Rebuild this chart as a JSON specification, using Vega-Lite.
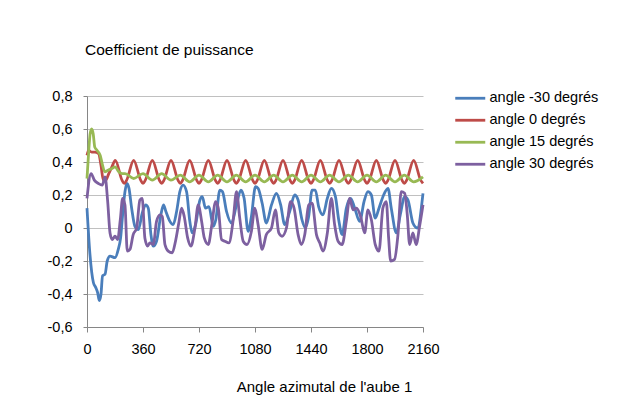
{
"$schema":"https://vega.github.io/schema/vega-lite/v6.json",
"width":336,"height":231,
"autosize":"none",
"padding":{"left":87,"top":96,"right":202,"bottom":87},
"background":"white",
"config":{"view":{"stroke":null},"font":"Liberation Sans","title":{"fontSize":15.5,"fontWeight":"normal","font":"Liberation Sans","color":"#000000"}},
"title":{"text":"Coefficient de puissance","anchor":"start","frame":"group","baseline":"alphabetic","offset":18,"dx":-2,"fontSize":15.5,"fontWeight":"normal","font":"Liberation Sans","color":"#000000"},
"data":{"values":[
{"s":"angle -30 degrés","a":0,"v":0.12},{"s":"angle -30 degrés","a":19,"v":-0.16},{"s":"angle -30 degrés","a":41,"v":-0.33},{"s":"angle -30 degrés","a":56,"v":-0.36},{"s":"angle -30 degrés","a":68,"v":-0.39},{"s":"angle -30 degrés","a":79,"v":-0.44},{"s":"angle -30 degrés","a":90,"v":-0.40},{"s":"angle -30 degrés","a":100,"v":-0.29},{"s":"angle -30 degrés","a":116,"v":-0.28},{"s":"angle -30 degrés","a":130,"v":-0.20},{"s":"angle -30 degrés","a":148,"v":-0.17},{"s":"angle -30 degrés","a":180,"v":-0.18},{"s":"angle -30 degrés","a":201,"v":-0.13},{"s":"angle -30 degrés","a":216,"v":-0.06},{"s":"angle -30 degrés","a":229,"v":0.08},{"s":"angle -30 degrés","a":244,"v":0.22},{"s":"angle -30 degrés","a":257,"v":0.27},{"s":"angle -30 degrés","a":270,"v":0.24},{"s":"angle -30 degrés","a":287,"v":0.12},{"s":"angle -30 degrés","a":308,"v":0.01},{"s":"angle -30 degrés","a":330,"v":-0.01},{"s":"angle -30 degrés","a":355,"v":0.09},{"s":"angle -30 degrés","a":377,"v":0.14},{"s":"angle -30 degrés","a":394,"v":0.12},{"s":"angle -30 degrés","a":411,"v":-0.04},{"s":"angle -30 degrés","a":426,"v":-0.11},{"s":"angle -30 degrés","a":447,"v":-0.08},{"s":"angle -30 degrés","a":475,"v":0.08},{"s":"angle -30 degrés","a":492,"v":0.14},{"s":"angle -30 degrés","a":507,"v":0.10},{"s":"angle -30 degrés","a":533,"v":0.04},{"s":"angle -30 degrés","a":554,"v":0.02},{"s":"angle -30 degrés","a":576,"v":0.10},{"s":"angle -30 degrés","a":597,"v":0.22},{"s":"angle -30 degrés","a":618,"v":0.26},{"s":"angle -30 degrés","a":640,"v":0.22},{"s":"angle -30 degrés","a":661,"v":0.04},{"s":"angle -30 degrés","a":676,"v":-0.03},{"s":"angle -30 degrés","a":698,"v":0.02},{"s":"angle -30 degrés","a":726,"v":0.17},{"s":"angle -30 degrés","a":741,"v":0.19},{"s":"angle -30 degrés","a":762,"v":0.12},{"s":"angle -30 degrés","a":784,"v":0.13},{"s":"angle -30 degrés","a":812,"v":0.01},{"s":"angle -30 degrés","a":828,"v":0.05},{"s":"angle -30 degrés","a":854,"v":0.23},{"s":"angle -30 degrés","a":871,"v":0.22},{"s":"angle -30 degrés","a":897,"v":0.10},{"s":"angle -30 degrés","a":929,"v":0.03},{"s":"angle -30 degrés","a":961,"v":0.14},{"s":"angle -30 degrés","a":989,"v":0.23},{"s":"angle -30 degrés","a":1010,"v":0.18},{"s":"angle -30 degrés","a":1036,"v":-0.02},{"s":"angle -30 degrés","a":1057,"v":0.07},{"s":"angle -30 degrés","a":1083,"v":0.25},{"s":"angle -30 degrés","a":1100,"v":0.24},{"s":"angle -30 degrés","a":1126,"v":0.15},{"s":"angle -30 degrés","a":1153,"v":0.03},{"s":"angle -30 degrés","a":1186,"v":0.14},{"s":"angle -30 degrés","a":1218,"v":0.21},{"s":"angle -30 degrés","a":1245,"v":0.14},{"s":"angle -30 degrés","a":1271,"v":0.02},{"s":"angle -30 degrés","a":1303,"v":0.10},{"s":"angle -30 degrés","a":1335,"v":0.20},{"s":"angle -30 degrés","a":1357,"v":0.17},{"s":"angle -30 degrés","a":1382,"v":0.05},{"s":"angle -30 degrés","a":1404,"v":0.0},{"s":"angle -30 degrés","a":1425,"v":0.07},{"s":"angle -30 degrés","a":1447,"v":0.23},{"s":"angle -30 degrés","a":1468,"v":0.23},{"s":"angle -30 degrés","a":1489,"v":0.13},{"s":"angle -30 degrés","a":1517,"v":0.08},{"s":"angle -30 degrés","a":1545,"v":0.18},{"s":"angle -30 degrés","a":1571,"v":0.24},{"s":"angle -30 degrés","a":1597,"v":0.19},{"s":"angle -30 degrés","a":1618,"v":0.05},{"s":"angle -30 degrés","a":1640,"v":-0.04},{"s":"angle -30 degrés","a":1667,"v":0.12},{"s":"angle -30 degrés","a":1695,"v":0.18},{"s":"angle -30 degrés","a":1721,"v":0.12},{"s":"angle -30 degrés","a":1753,"v":0.04},{"s":"angle -30 degrés","a":1781,"v":0.16},{"s":"angle -30 degrés","a":1806,"v":0.22},{"s":"angle -30 degrés","a":1828,"v":0.20},{"s":"angle -30 degrés","a":1853,"v":0.06},{"s":"angle -30 degrés","a":1877,"v":0.12},{"s":"angle -30 degrés","a":1907,"v":0.20},{"s":"angle -30 degrés","a":1935,"v":0.24},{"s":"angle -30 degrés","a":1956,"v":0.12},{"s":"angle -30 degrés","a":1989,"v":-0.03},{"s":"angle -30 degrés","a":2014,"v":0.08},{"s":"angle -30 degrés","a":2042,"v":0.19},{"s":"angle -30 degrés","a":2063,"v":0.17},{"s":"angle -30 degrés","a":2095,"v":0.03},{"s":"angle -30 degrés","a":2123,"v":0.0},{"s":"angle -30 degrés","a":2160,"v":0.21},
{"s":"angle 0 degrés","a":0,"v":0.44},{"s":"angle 0 degrés","a":10,"v":0.47},{"s":"angle 0 degrés","a":30,"v":0.46},{"s":"angle 0 degrés","a":50,"v":0.46},{"s":"angle 0 degrés","a":75,"v":0.45},{"s":"angle 0 degrés","a":90,"v":0.38},{"s":"angle 0 degrés","a":105,"v":0.29},{"s":"angle 0 degrés","a":120,"v":0.29},{"s":"angle 0 degrés","a":140,"v":0.33},{"s":"angle 0 degrés","a":160,"v":0.37},{"s":"angle 0 degrés","a":182,"v":0.41},{"s":"angle 0 degrés","a":225,"v":0.29},{"s":"angle 0 degrés","a":240,"v":0.27},{"s":"angle 0 degrés","a":255,"v":0.29},
{"s":"angle 0 degrés","a":300,"v":0.41},{"s":"angle 0 degrés","a":345,"v":0.29},{"s":"angle 0 degrés","a":360,"v":0.27},{"s":"angle 0 degrés","a":375,"v":0.29},
{"s":"angle 0 degrés","a":420,"v":0.41},{"s":"angle 0 degrés","a":465,"v":0.29},{"s":"angle 0 degrés","a":480,"v":0.27},{"s":"angle 0 degrés","a":495,"v":0.29},
{"s":"angle 0 degrés","a":540,"v":0.41},{"s":"angle 0 degrés","a":585,"v":0.29},{"s":"angle 0 degrés","a":600,"v":0.27},{"s":"angle 0 degrés","a":615,"v":0.29},
{"s":"angle 0 degrés","a":660,"v":0.41},{"s":"angle 0 degrés","a":705,"v":0.29},{"s":"angle 0 degrés","a":720,"v":0.27},{"s":"angle 0 degrés","a":735,"v":0.29},
{"s":"angle 0 degrés","a":780,"v":0.41},{"s":"angle 0 degrés","a":825,"v":0.29},{"s":"angle 0 degrés","a":840,"v":0.27},{"s":"angle 0 degrés","a":855,"v":0.29},
{"s":"angle 0 degrés","a":900,"v":0.41},{"s":"angle 0 degrés","a":945,"v":0.29},{"s":"angle 0 degrés","a":960,"v":0.27},{"s":"angle 0 degrés","a":975,"v":0.29},
{"s":"angle 0 degrés","a":1020,"v":0.41},{"s":"angle 0 degrés","a":1065,"v":0.29},{"s":"angle 0 degrés","a":1080,"v":0.27},{"s":"angle 0 degrés","a":1095,"v":0.29},
{"s":"angle 0 degrés","a":1140,"v":0.41},{"s":"angle 0 degrés","a":1185,"v":0.29},{"s":"angle 0 degrés","a":1200,"v":0.27},{"s":"angle 0 degrés","a":1215,"v":0.29},
{"s":"angle 0 degrés","a":1260,"v":0.41},{"s":"angle 0 degrés","a":1305,"v":0.29},{"s":"angle 0 degrés","a":1320,"v":0.27},{"s":"angle 0 degrés","a":1335,"v":0.29},
{"s":"angle 0 degrés","a":1380,"v":0.41},{"s":"angle 0 degrés","a":1425,"v":0.29},{"s":"angle 0 degrés","a":1440,"v":0.27},{"s":"angle 0 degrés","a":1455,"v":0.29},
{"s":"angle 0 degrés","a":1500,"v":0.41},{"s":"angle 0 degrés","a":1545,"v":0.29},{"s":"angle 0 degrés","a":1560,"v":0.27},{"s":"angle 0 degrés","a":1575,"v":0.29},
{"s":"angle 0 degrés","a":1620,"v":0.41},{"s":"angle 0 degrés","a":1665,"v":0.29},{"s":"angle 0 degrés","a":1680,"v":0.27},{"s":"angle 0 degrés","a":1695,"v":0.29},
{"s":"angle 0 degrés","a":1740,"v":0.41},{"s":"angle 0 degrés","a":1785,"v":0.29},{"s":"angle 0 degrés","a":1800,"v":0.27},{"s":"angle 0 degrés","a":1815,"v":0.29},
{"s":"angle 0 degrés","a":1860,"v":0.41},{"s":"angle 0 degrés","a":1905,"v":0.29},{"s":"angle 0 degrés","a":1920,"v":0.27},{"s":"angle 0 degrés","a":1935,"v":0.29},
{"s":"angle 0 degrés","a":1980,"v":0.41},{"s":"angle 0 degrés","a":2025,"v":0.29},{"s":"angle 0 degrés","a":2040,"v":0.27},{"s":"angle 0 degrés","a":2055,"v":0.29},
{"s":"angle 0 degrés","a":2100,"v":0.41},{"s":"angle 0 degrés","a":2145,"v":0.29},{"s":"angle 0 degrés","a":2160,"v":0.27},
{"s":"angle 15 degrés","a":0,"v":0.30},{"s":"angle 15 degrés","a":10,"v":0.45},{"s":"angle 15 degrés","a":20,"v":0.57},{"s":"angle 15 degrés","a":30,"v":0.60},{"s":"angle 15 degrés","a":40,"v":0.57},{"s":"angle 15 degrés","a":50,"v":0.49},{"s":"angle 15 degrés","a":65,"v":0.47},{"s":"angle 15 degrés","a":85,"v":0.44},{"s":"angle 15 degrés","a":100,"v":0.38},{"s":"angle 15 degrés","a":115,"v":0.34},{"s":"angle 15 degrés","a":135,"v":0.35},{"s":"angle 15 degrés","a":160,"v":0.36},{"s":"angle 15 degrés","a":180,"v":0.37},{"s":"angle 15 degrés","a":205,"v":0.34},{"s":"angle 15 degrés","a":225,"v":0.33},{"s":"angle 15 degrés","a":245,"v":0.33},
{"s":"angle 15 degrés","a":300,"v":0.30},{"s":"angle 15 degrés","a":360,"v":0.33},{"s":"angle 15 degrés","a":420,"v":0.29},{"s":"angle 15 degrés","a":480,"v":0.33},{"s":"angle 15 degrés","a":540,"v":0.29},{"s":"angle 15 degrés","a":600,"v":0.32},{"s":"angle 15 degrés","a":660,"v":0.28},{"s":"angle 15 degrés","a":720,"v":0.32},{"s":"angle 15 degrés","a":780,"v":0.28},{"s":"angle 15 degrés","a":840,"v":0.32},{"s":"angle 15 degrés","a":900,"v":0.28},{"s":"angle 15 degrés","a":960,"v":0.32},{"s":"angle 15 degrés","a":1020,"v":0.28},{"s":"angle 15 degrés","a":1080,"v":0.32},{"s":"angle 15 degrés","a":1140,"v":0.28},{"s":"angle 15 degrés","a":1200,"v":0.32},{"s":"angle 15 degrés","a":1260,"v":0.28},{"s":"angle 15 degrés","a":1320,"v":0.32},{"s":"angle 15 degrés","a":1380,"v":0.28},{"s":"angle 15 degrés","a":1440,"v":0.32},{"s":"angle 15 degrés","a":1500,"v":0.28},{"s":"angle 15 degrés","a":1560,"v":0.32},{"s":"angle 15 degrés","a":1620,"v":0.28},{"s":"angle 15 degrés","a":1680,"v":0.32},{"s":"angle 15 degrés","a":1740,"v":0.28},{"s":"angle 15 degrés","a":1800,"v":0.32},{"s":"angle 15 degrés","a":1860,"v":0.28},{"s":"angle 15 degrés","a":1920,"v":0.32},{"s":"angle 15 degrés","a":1980,"v":0.28},{"s":"angle 15 degrés","a":2040,"v":0.32},{"s":"angle 15 degrés","a":2100,"v":0.28},{"s":"angle 15 degrés","a":2160,"v":0.31},
{"s":"angle 30 degrés","a":0,"v":0.18},{"s":"angle 30 degrés","a":26,"v":0.33},{"s":"angle 30 degrés","a":47,"v":0.29},{"s":"angle 30 degrés","a":73,"v":0.27},{"s":"angle 30 degrés","a":98,"v":0.26},{"s":"angle 30 degrés","a":116,"v":0.31},{"s":"angle 30 degrés","a":133,"v":0.16},{"s":"angle 30 degrés","a":148,"v":-0.03},{"s":"angle 30 degrés","a":163,"v":-0.07},{"s":"angle 30 degrés","a":180,"v":-0.05},{"s":"angle 30 degrés","a":197,"v":-0.07},{"s":"angle 30 degrés","a":214,"v":0.05},{"s":"angle 30 degrés","a":229,"v":0.18},{"s":"angle 30 degrés","a":244,"v":0.14},{"s":"angle 30 degrés","a":259,"v":-0.14},{"s":"angle 30 degrés","a":276,"v":-0.13},{"s":"angle 30 degrés","a":297,"v":-0.04},{"s":"angle 30 degrés","a":319,"v":0.0},{"s":"angle 30 degrés","a":340,"v":0.17},{"s":"angle 30 degrés","a":355,"v":0.18},{"s":"angle 30 degrés","a":372,"v":-0.06},{"s":"angle 30 degrés","a":390,"v":-0.11},{"s":"angle 30 degrés","a":404,"v":-0.09},{"s":"angle 30 degrés","a":426,"v":-0.10},{"s":"angle 30 degrés","a":447,"v":0.04},{"s":"angle 30 degrés","a":469,"v":0.08},{"s":"angle 30 degrés","a":484,"v":0.07},{"s":"angle 30 degrés","a":501,"v":-0.10},{"s":"angle 30 degrés","a":522,"v":-0.14},{"s":"angle 30 degrés","a":548,"v":-0.15},{"s":"angle 30 degrés","a":569,"v":-0.08},{"s":"angle 30 degrés","a":590,"v":0.03},{"s":"angle 30 degrés","a":608,"v":0.12},{"s":"angle 30 degrés","a":625,"v":0.07},{"s":"angle 30 degrés","a":647,"v":-0.06},{"s":"angle 30 degrés","a":668,"v":-0.11},{"s":"angle 30 degrés","a":694,"v":0.0},{"s":"angle 30 degrés","a":715,"v":0.14},{"s":"angle 30 degrés","a":737,"v":0.04},{"s":"angle 30 degrés","a":754,"v":-0.06},{"s":"angle 30 degrés","a":780,"v":-0.10},{"s":"angle 30 degrés","a":801,"v":0.01},{"s":"angle 30 degrés","a":827,"v":0.16},{"s":"angle 30 degrés","a":844,"v":0.12},{"s":"angle 30 degrés","a":865,"v":-0.07},{"s":"angle 30 degrés","a":886,"v":-0.08},{"s":"angle 30 degrés","a":912,"v":-0.09},{"s":"angle 30 degrés","a":940,"v":0.05},{"s":"angle 30 degrés","a":961,"v":0.22},{"s":"angle 30 degrés","a":982,"v":0.06},{"s":"angle 30 degrés","a":1004,"v":-0.08},{"s":"angle 30 degrés","a":1029,"v":-0.10},{"s":"angle 30 degrés","a":1057,"v":-0.02},{"s":"angle 30 degrés","a":1079,"v":0.12},{"s":"angle 30 degrés","a":1100,"v":0.02},{"s":"angle 30 degrés","a":1126,"v":-0.13},{"s":"angle 30 degrés","a":1153,"v":-0.04},{"s":"angle 30 degrés","a":1186,"v":0.0},{"s":"angle 30 degrés","a":1211,"v":0.11},{"s":"angle 30 degrés","a":1233,"v":-0.03},{"s":"angle 30 degrés","a":1254,"v":-0.05},{"s":"angle 30 degrés","a":1282,"v":0.0},{"s":"angle 30 degrés","a":1309,"v":0.16},{"s":"angle 30 degrés","a":1331,"v":0.12},{"s":"angle 30 degrés","a":1357,"v":-0.04},{"s":"angle 30 degrés","a":1378,"v":-0.10},{"s":"angle 30 degrés","a":1400,"v":-0.04},{"s":"angle 30 degrés","a":1425,"v":0.14},{"s":"angle 30 degrés","a":1447,"v":0.15},{"s":"angle 30 degrés","a":1475,"v":-0.04},{"s":"angle 30 degrés","a":1496,"v":-0.09},{"s":"angle 30 degrés","a":1517,"v":-0.14},{"s":"angle 30 degrés","a":1545,"v":-0.03},{"s":"angle 30 degrés","a":1571,"v":0.18},{"s":"angle 30 degrés","a":1592,"v":0.02},{"s":"angle 30 degrés","a":1614,"v":-0.08},{"s":"angle 30 degrés","a":1640,"v":-0.10},{"s":"angle 30 degrés","a":1667,"v":0.04},{"s":"angle 30 degrés","a":1689,"v":0.18},{"s":"angle 30 degrés","a":1710,"v":0.11},{"s":"angle 30 degrés","a":1732,"v":0.12},{"s":"angle 30 degrés","a":1759,"v":0.07},{"s":"angle 30 degrés","a":1785,"v":-0.03},{"s":"angle 30 degrés","a":1806,"v":0.11},{"s":"angle 30 degrés","a":1828,"v":0.05},{"s":"angle 30 degrés","a":1853,"v":-0.10},{"s":"angle 30 degrés","a":1877,"v":-0.14},{"s":"angle 30 degrés","a":1902,"v":0.12},{"s":"angle 30 degrés","a":1924,"v":0.16},{"s":"angle 30 degrés","a":1939,"v":-0.06},{"s":"angle 30 degrés","a":1952,"v":-0.20},{"s":"angle 30 degrés","a":1977,"v":-0.19},{"s":"angle 30 degrés","a":1999,"v":-0.04},{"s":"angle 30 degrés","a":2020,"v":0.22},{"s":"angle 30 degrés","a":2042,"v":0.21},{"s":"angle 30 degrés","a":2059,"v":0.08},{"s":"angle 30 degrés","a":2074,"v":-0.10},{"s":"angle 30 degrés","a":2095,"v":-0.03},{"s":"angle 30 degrés","a":2116,"v":-0.10},{"s":"angle 30 degrés","a":2138,"v":0.01},{"s":"angle 30 degrés","a":2160,"v":0.14}
]},
"mark":{"type":"line","strokeWidth":2.8,"interpolate":"monotone"},
"encoding":{
"x":{"field":"a","type":"quantitative","scale":{"domain":[0,2160],"nice":false},
 "axis":{"values":[0,360,720,1080,1440,1800,2160],"format":"d","title":"Angle azimutal de l'aube 1","titleX":237,"titleY":52,"titleAlign":"center","titleBaseline":"top","titleFontSize":15,"titleFontWeight":"normal","titleColor":"#000000","titleFont":"Liberation Sans","labelFontSize":14.5,"labelColor":"#000000","labelFont":"Liberation Sans","labelPadding":10,"tickSize":5,"tickColor":"#868686","domainColor":"#868686","grid":false,"labelFlush":false}},
"y":{"field":"v","type":"quantitative","scale":{"domain":[-0.6,0.8],"nice":false,"zero":false},
 "axis":{"values":[-0.6,-0.4,-0.2,0,0.2,0.4,0.6,0.8],"title":null,"labelExpr":"datum.value == 0 ? '0' : (datum.value < 0 ? '-' : '') + replace(format(abs(datum.value), '.1f'), '.', ',')","labelFontSize":14.5,"labelColor":"#000000","labelFont":"Liberation Sans","labelPadding":11,"tickSize":4,"tickColor":"#868686","domainColor":"#868686","grid":true,"gridColor":"#c0c0c0","gridWidth":1}},
"color":{"field":"s","type":"nominal","sort":null,
 "scale":{"domain":["angle -30 degrés","angle 0 degrés","angle 15 degrés","angle 30 degrés"],"range":["#4a7ebb","#be4b48","#98b954","#7d60a0"]},
 "legend":{"title":null,"orient":"none","legendX":376,"legendY":-5,"symbolType":"M-5,0H5","symbolSize":36,"symbolStrokeWidth":2.8,"labelOffset":12,"labelFontSize":14.5,"labelFont":"Liberation Sans","labelColor":"#000000","rowPadding":7,"labelExpr":"datum.value == 'angle -30 degrés' ? '\u00a0 angle -30 degrés' : datum.label"}}
}
}
